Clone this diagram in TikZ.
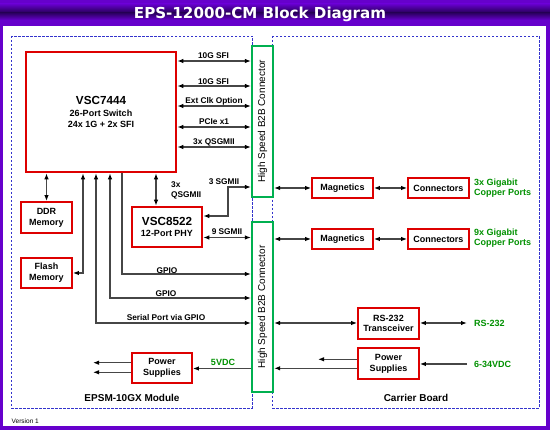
\documentclass[tikz,border=0pt]{standalone}
\usepackage{fontspec}
\setmainfont{Liberation Sans}
\newfontfamily\titlefont{DejaVu Sans}
\usetikzlibrary{arrows.meta}
\definecolor{purp}{RGB}{102,0,204}
\definecolor{purpdark}{RGB}{40,0,90}
\definecolor{boxred}{RGB}{221,0,0}
\definecolor{cgreen}{RGB}{0,176,80}
\definecolor{tgreen}{RGB}{0,145,0}
\definecolor{dblue}{RGB}{51,51,204}
\definecolor{lgray}{RGB}{70,70,70}
\tikzset{
  box/.style={draw=boxred, line width=1.8pt, fill=white, align=center, inner sep=0pt,
    font=\bfseries\fontsize{9}{10.7}\selectfont},
  bigbox/.style={box, line width=2.6pt, font=\bfseries\fontsize{9}{11}\selectfont},
  b2b/.style={draw=cgreen, line width=2.2pt, fill=white, inner sep=0pt, minimum width=21pt},
  b2btext/.style={rotate=90, font=\fontsize{10}{12}\selectfont, inner sep=0pt},
  region/.style={draw=dblue, line width=0.8pt, dash pattern=on 2.5pt off 1.5pt},
  lnk/.style={draw=lgray, line width=1.3pt},
  lbl/.style={font=\bfseries\fontsize{8.3}{10}\selectfont, inner sep=0pt},
  glbl/.style={font=\bfseries\fontsize{9}{10.6}\selectfont, text=tgreen, inner sep=0pt, align=left},
  biglbl/.style={font=\bfseries\fontsize{10}{12}\selectfont, inner sep=0pt},
  >={Latex[length=6pt,width=4.5pt,color=black]}
}
\begin{document}
\begin{tikzpicture}[x=1pt,y=-1pt]
\useasboundingbox (0,0) rectangle (550,430);
% frame and title bar
\fill[purp] (0,0) rectangle (550,430);
\shade[top color=purp, bottom color=purpdark] (0,4) rectangle (550,12.5);
\shade[top color=purpdark, bottom color=purp] (0,12.5) rectangle (550,20);
\fill[white] (3,26) rectangle (546,426);
\node (title) [font=\titlefont\bfseries\fontsize{15.1}{16}\selectfont, text=white, inner sep=0pt] at (260,14) {EPS-12000-CM Block Diagram};
% regions
\draw[region] (11,36) rectangle (252,408);
\draw[region] (272,36) rectangle (539,408);
% connectors
\node (b2b1) [b2b, minimum height=151pt] at (262.5,121.5) {};
\node (b2b2) [b2b, minimum height=170pt] at (262.5,307) {};
\node (b2b1t) [b2btext] at (b2b1) {High Speed B2B Connector};
\node (b2b2t) [b2btext] at (b2b2) {High Speed B2B Connector};
% boxes
\node (sw) [bigbox, minimum width=150pt, minimum height=120pt] at (101,112)
  {{\fontsize{11.7}{12}\selectfont VSC7444}\\[0.6pt] 26-Port Switch\\ 24x 1G + 2x SFI};
\node (phy) [bigbox, minimum width=70pt, minimum height=40pt] at (167,227)
  {{\fontsize{11.7}{12}\selectfont VSC8522}\\[0.6pt] 12-Port PHY};
\node (ddr) [box, minimum width=51pt, minimum height=31pt] at (46.5,217.5) {DDR\\Memory};
\node (flash) [box, minimum width=51pt, minimum height=30pt] at (46.5,273) {Flash\\Memory};
\node (pwrL) [box, minimum width=60pt, minimum height=30pt] at (162,368) {Power\\Supplies};
\node (mag1) [box, minimum width=61pt, minimum height=20pt] at (342.5,188) {Magnetics};
\node (con1) [box, minimum width=61pt, minimum height=20pt] at (438.5,188) {Connectors};
\node (mag2) [box, minimum width=61pt, minimum height=20pt] at (342.5,239) {Magnetics};
\node (con2) [box, minimum width=61pt, minimum height=20pt] at (438.5,239) {Connectors};
\node (rs) [box, minimum width=61pt, minimum height=31pt] at (388.5,323.5) {RS-232\\Transceiver};
\node (pwrR) [box, minimum width=61pt, minimum height=31pt] at (388.5,363.5) {Power\\Supplies};
% switch to connector links
\draw[lnk,<->] (sw.east |- 0,61) -- (b2b1.west |- 0,61);
\draw[lnk,<->] (sw.east |- 0,86) -- (b2b1.west |- 0,86);
\draw[lnk,<->] (sw.east |- 0,106) -- (b2b1.west |- 0,106);
\draw[lnk,<->] (sw.east |- 0,127) -- (b2b1.west |- 0,127);
\draw[lnk,<->] (sw.east |- 0,147) -- (b2b1.west |- 0,147);
\node (l1) [lbl] at (213.5,56) {10G SFI};
\node (l2) [lbl] at (213.5,81.5) {10G SFI};
\node (l3) [lbl] at (214,101.5) {Ext Clk Option};
\node (l4) [lbl] at (214,122) {PCIe x1};
\node (l5) [lbl] at (214,142) {3x QSGMII};
% downward links
\draw[lnk,<->] (sw.south -| ddr.north) -- (ddr.north);
\draw[lnk,<->] (sw.south -| phy.north -| 156,0) -- (phy.north -| 156,0);
\draw[lnk,<->] (sw.south -| 83,0) |- (flash.east);
\draw[lnk,<->] (sw.south -| 96,0) |- (b2b2.west |- 0,323);
\draw[lnk,<->] (sw.south -| 110,0) |- (b2b2.west |- 0,298);
\draw[lnk,->] (sw.south -| 122,0) |- (b2b2.west |- 0,274);
\node (g1) [lbl] at (167,270.5) {GPIO};
\node (g2) [lbl] at (166,294) {GPIO};
\node (g3) [lbl] at (166,318) {Serial Port via GPIO};
\node (q3) [lbl, anchor=west, align=left, font=\bfseries\fontsize{8.3}{10}\selectfont] at (171,190) {3x\\QSGMII};
% PHY links
\draw[lnk,<->] (phy.east |- 0,216) -| (228,187) -- (b2b1.west |- 0,187);
\node (s3) [lbl] at (224,182) {3 SGMII};
\draw[lnk,<->] (phy.east |- 0,237.5) -- (b2b2.west |- 0,237.5);
\node (s9) [lbl] at (227,232) {9 SGMII};
% power on module
\draw[lnk,->] (b2b2.west |- 0,368.5) -- (pwrL.east |- 0,368.5);
\node (v5) [glbl] at (223,362) {5VDC};
\coordinate (pl1) at (93,362.7);
\coordinate (pl2) at (93,372.3);
\draw[lnk,->] (pwrL.west |- pl1) -- (pl1);
\draw[lnk,->] (pwrL.west |- pl2) -- (pl2);
% carrier board links
\draw[lnk,<->] (b2b1.east |- mag1.west) -- (mag1.west);
\draw[lnk,<->] (mag1.east) -- (con1.west);
\draw[lnk,<->] (b2b2.east |- mag2.west) -- (mag2.west);
\draw[lnk,<->] (mag2.east) -- (con2.west);
\node (gp1) [glbl, anchor=west] at (474,188) {3x Gigabit\\Copper Ports};
\node (gp2) [glbl, anchor=west] at (474,238) {9x Gigabit\\Copper Ports};
\draw[lnk,<->] (b2b2.east |- 0,323) -- (rs.west |- 0,323);
\coordinate (rsout) at (467,323);
\draw[lnk,<->] (rs.east |- rsout) -- (rsout);
\node (rsl) [glbl, anchor=west] at (474,323) {RS-232};
\coordinate (vin) at (467,364);
\draw[lnk,->] (vin) -- (pwrR.east |- vin);
\node (vinl) [glbl, anchor=west] at (474,364) {6-34VDC};
\coordinate (pr1) at (318,359.3);
\draw[lnk,->] (pwrR.west |- pr1) -- (pr1);
\draw[lnk,->] (pwrR.west |- 0,368.3) -- (b2b2.east |- 0,368.3);
% region labels
\node (modl) [biglbl] at (132,398) {EPSM-10GX Module};
\node (carl) [biglbl] at (416,397.5) {Carrier Board};
\node (ver) [font=\fontsize{6.5}{8}\selectfont, anchor=west, inner sep=0pt] at (11.5,421) {Version 1};
\end{tikzpicture}
\end{document}
